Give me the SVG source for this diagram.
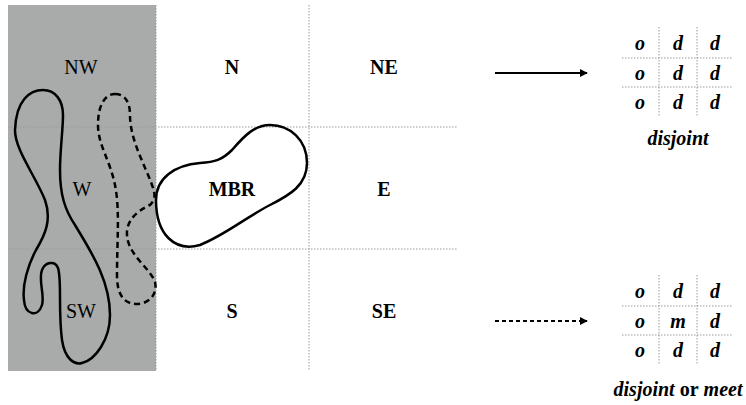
<svg xmlns="http://www.w3.org/2000/svg" width="746" height="405" viewBox="0 0 746 405">
<style>
.grid{stroke:#9a9a9a;stroke-width:1;stroke-dasharray:1.5,1.5;fill:none}
text{font-family:"Liberation Serif","Times New Roman",serif}
.lbl{font-size:20px;text-anchor:middle;fill:#000}
.b{font-weight:bold}
.m{font-size:20px;font-weight:bold;font-style:italic;text-anchor:middle;fill:#000}
.shape{fill:none;stroke:#000;stroke-width:2.5}
.arrow{stroke:#000;stroke-width:2;fill:none}
</style>
<defs>
<marker id="ah" viewBox="0 0 10 10" refX="9" refY="5" markerWidth="8" markerHeight="8" markerUnits="userSpaceOnUse" orient="auto">
<path d="M0,0 L10,5 L0,10 Z" fill="#000"/>
</marker>
</defs>
<rect width="746" height="405" fill="#fff"/>
<g id="grid">
<rect x="8" y="5" width="148" height="366" fill="#a8abaa"/>
<line class="grid" x1="8" y1="127" x2="458" y2="127"/>
<line class="grid" x1="8" y1="249" x2="458" y2="249"/>
<line class="grid" x1="156" y1="5" x2="156" y2="371"/>
<line class="grid" x1="309" y1="5" x2="309" y2="371"/>
</g>
<g id="labels">
<text class="lbl" x="81" y="74">NW</text>
<text class="lbl b" x="232" y="74">N</text>
<text class="lbl b" x="384" y="74">NE</text>
<text class="lbl" x="82" y="196">W</text>
<text class="lbl b" x="384" y="196">E</text>
<text class="lbl" x="81" y="318">SW</text>
<text class="lbl b" x="232" y="318">S</text>
<text class="lbl b" x="384" y="318">SE</text>
</g>
<g id="mbr">
<path class="shape" d="M156 200 C156 178 175 165 200 163 C215 162 222 160 232 150 C245 135 255 125 270 125 C290 125 307 140 307 163 C307 185 290 195 270 205 C245 218 225 235 200 245 C175 252 156 235 156 200 Z"/>
<text class="lbl b" x="232" y="196">MBR</text>
</g>
<g id="solid-region">
<path class="shape" stroke-width="2.2" d="M43 90 C30 90 16 100 15 130 C15 150 35 175 45 200 C52 220 45 235 36 250 C28 265 22 285 24 300 C25 315 38 318 42 305 C45 295 38 280 42 270 C45 262 55 260 58 268 C62 280 58 310 62 340 C65 360 75 365 82 363 C95 360 110 340 110 315 C110 280 90 250 75 225 C65 210 60 195 60 170 C60 150 63 130 63 115 C63 100 55 90 43 90 Z"/>
</g>
<g id="dashed-region">
<path class="shape" stroke-dasharray="6,4" d="M115 94 C125 94 130 102 130 115 C130 140 145 165 152 185 C156 195 155 200 150 205 C135 212 126 222 127 235 C128 255 150 268 155 282 C158 295 148 304 137 304 C122 304 117 292 117 275 C117 240 120 210 115 185 C110 160 98 145 98 125 C98 105 105 94 115 94 Z"/>
</g>
<g id="connectors">
<line class="arrow" x1="495" y1="73" x2="587" y2="73" marker-end="url(#ah)"/>
<line class="arrow" x1="495" y1="321" x2="587" y2="321" stroke-dasharray="4,3" marker-end="url(#ah)"/>
</g>
<g id="matrix-disjoint">
<line class="grid" x1="659" y1="27" x2="659" y2="117"/>
<line class="grid" x1="697" y1="27" x2="697" y2="117"/>
<line class="grid" x1="622" y1="58" x2="733" y2="58"/>
<line class="grid" x1="622" y1="87" x2="733" y2="87"/>
<text class="m" x="640" y="50">o</text><text class="m" x="678" y="50">d</text><text class="m" x="715" y="50">d</text>
<text class="m" x="640" y="80">o</text><text class="m" x="678" y="80">d</text><text class="m" x="715" y="80">d</text>
<text class="m" x="640" y="109">o</text><text class="m" x="678" y="109">d</text><text class="m" x="715" y="109">d</text>
<text class="m" x="678" y="145">disjoint</text>
</g>
<g id="matrix-meet">
<line class="grid" x1="659" y1="275" x2="659" y2="365"/>
<line class="grid" x1="697" y1="275" x2="697" y2="365"/>
<line class="grid" x1="622" y1="306" x2="733" y2="306"/>
<line class="grid" x1="622" y1="335" x2="733" y2="335"/>
<text class="m" x="640" y="298">o</text><text class="m" x="678" y="298">d</text><text class="m" x="715" y="298">d</text>
<text class="m" x="640" y="328">o</text><text class="m" x="678" y="328">m</text><text class="m" x="715" y="328">d</text>
<text class="m" x="640" y="357">o</text><text class="m" x="678" y="357">d</text><text class="m" x="715" y="357">d</text>
<text class="lbl" x="678" y="396"><tspan class="b" font-style="italic">disjoint</tspan> <tspan class="b">or</tspan> <tspan class="b" font-style="italic">meet</tspan></text>
</g>
</svg>
